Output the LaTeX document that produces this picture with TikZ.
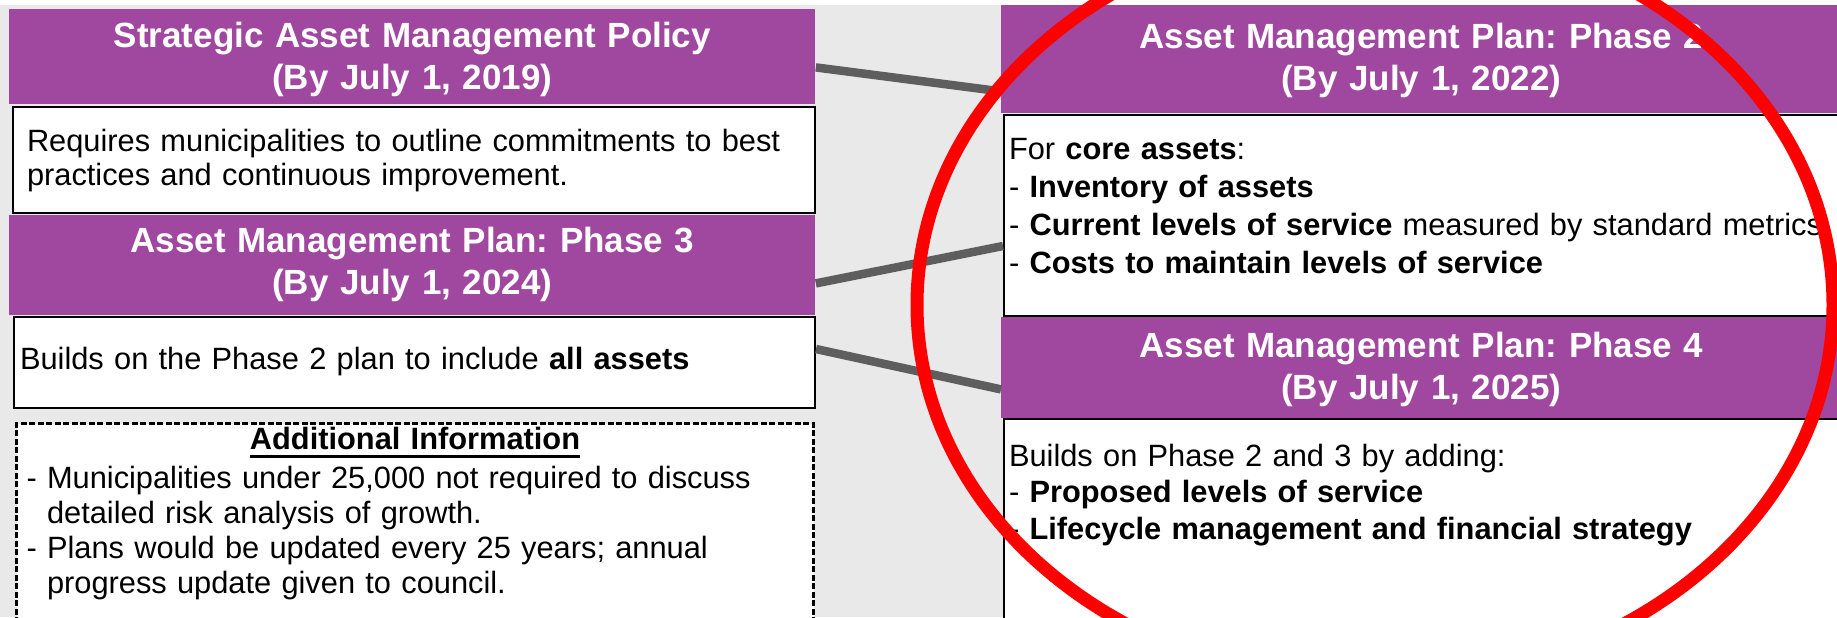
\documentclass[tikz,border=0pt]{standalone}
\usepackage{fontspec}
\setmainfont{Liberation Sans}
\usepackage{tikz}
\definecolor{hdrpurple}{HTML}{A0489F}
\definecolor{linkgray}{HTML}{5E5E5E}
\definecolor{backgray}{HTML}{E9E9E9}
\newcommand{\thickul}[1]{\setbox0\hbox{#1}\rlap{\rule[-4pt]{\wd0}{1.5pt}}\box0}
\frenchspacing
\tikzset{
	hdrbox/.style={anchor=north west, fill=hdrpurple, text=white, inner sep=0pt, align=center, font=\fontsize{17.5pt}{21pt}\selectfont\bfseries},
	bodybox/.style={anchor=north west, draw=black, line width=1pt, fill=white, inner ysep=0pt, align=left, font=\fontsize{15.4pt}{17pt}\selectfont},
	link/.style={draw=linkgray, line width=4.25pt}
}

\begin{document}
\begin{tikzpicture}[x=0.5pt, y=-0.5pt]
			%%%%% START %%%%%
			
			\useasboundingbox (0, 0) rectangle (1837, 617);
			\clip (0, 0) rectangle (1837, 617);
			\fill[backgray] (0, 0) rectangle (1837, 617);
			\fill[white] (0, 0) rectangle (1837, 5);
			
			\node[bodybox, inner xsep=7pt, text width=387pt, text height=22pt, text depth=31pt] (policybody) at (12, 106) {Requires municipalities to outline commitments to best\\practices and continuous improvement.};
			\node[hdrbox, text width=403pt, text height=19pt, text depth=28.5pt] (policyhdr) at (9, 9) {Strategic Asset Management Policy\\(By July 1, 2019)};
			
			\node[bodybox, inner xsep=3pt, text width=394.5pt, text height=26pt, text depth=19.5pt] (phasethreebody) at (13, 316) {Builds on the Phase 2 plan to include \textbf{all assets}};
			\node[hdrbox, text width=403pt, text height=18.5pt, text depth=31.5pt] (phasethreehdr) at (9, 215) {Asset Management Plan: Phase 3\\(By July 1, 2024)};
			
			\node[bodybox, dash pattern=on 3pt off 1.25pt, line width=1.5pt, inner xsep=5pt, text width=388.5pt, text height=13pt, text depth=126pt, font=\fontsize{15.4pt}{17.5pt}\selectfont] (infobox) at (15, 422) {\makebox[\linewidth]{\bfseries\thickul{Additional Information}}\\[2pt]
				- Municipalities under 25,000 not required to discuss\\
				\phantom{- }detailed risk analysis of growth.\\
				- Plans would be updated every 25 years; annual\\
				\phantom{- }progress update given to council.};
			
			\node[bodybox, inner xsep=2.5pt, text width=414pt, text height=22pt, text depth=78.5pt, font=\fontsize{15.4pt}{19pt}\selectfont] (phasetwobody) at (1003, 114) {For \textbf{core assets}:\\
				- \textbf{Inventory of assets}\\
				- \textbf{Current levels of service} measured by standard metrics\\
				- \textbf{Costs to maintain levels of service}};
			\node[hdrbox, text width=420pt, text height=21.5pt, text depth=32.5pt] (phasetwohdr) at (1001, 5) {Asset Management Plan: Phase 2\\(By July 1, 2022)};
			
			\node[bodybox, inner xsep=2.5pt, text width=414pt, text height=23.5pt, text depth=150pt, font=\fontsize{15.4pt}{18.25pt}\selectfont] (phasefourbody) at (1003, 418) {Builds on Phase 2 and 3 by adding:\\
				- \textbf{Proposed levels of service}\\
				- \textbf{Lifecycle management and financial strategy}};
			\node[hdrbox, text width=420pt, text height=20pt, text depth=30.5pt] (phasefourhdr) at (1001, 317) {Asset Management Plan: Phase 4\\(By July 1, 2025)};
			
			\draw[link] ([yshift=-5.25pt]policyhdr.east) -- ([yshift=-16pt]phasetwohdr.west);
			\draw[link] ([yshift=-9pt]phasethreehdr.east) -- ([yshift=-15.25pt]phasetwobody.west);
			\draw[link] ([yshift=6.75pt]phasethreebody.east) -- ([yshift=-10.75pt]phasefourhdr.west);
			
			\draw[red, line width=6.5pt] (1375, 305) ellipse [x radius=229pt, y radius=190pt];
			
			%%%%% END %%%%%
\end{tikzpicture}
\end{document}
